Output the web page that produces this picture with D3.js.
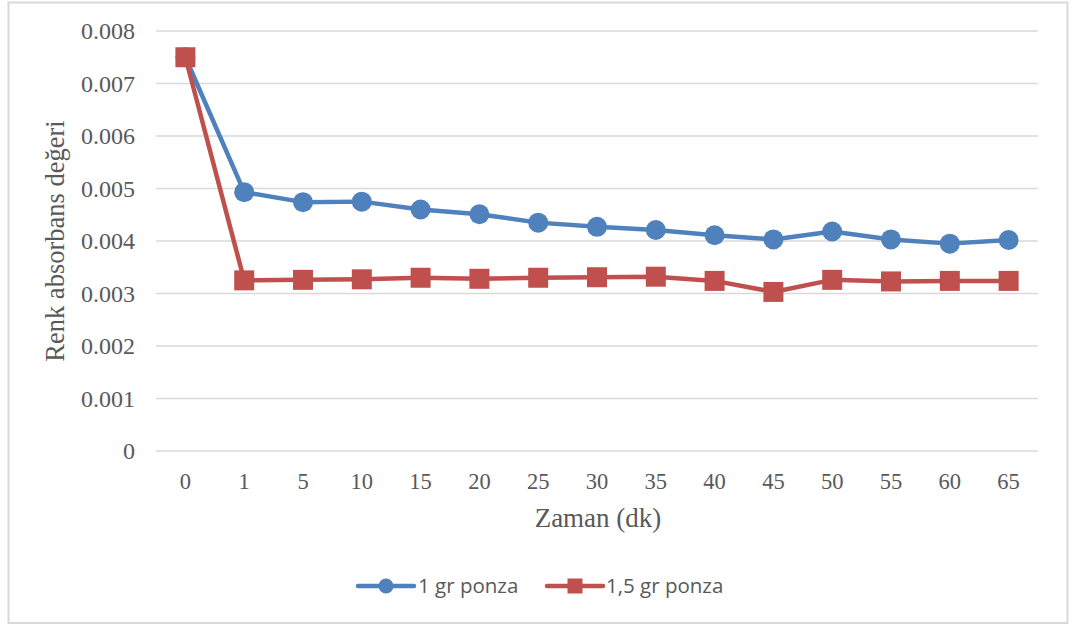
<!DOCTYPE html>
<html>
<head>
<meta charset="utf-8">
<script src="https://cdn.jsdelivr.net/npm/d3@7/dist/d3.min.js"></script>
<style>
  html, body { margin: 0; padding: 0; background: #ffffff; }
  svg { display: block; }
  .serif { font-family: "Liberation Serif", "DejaVu Serif", serif; }
  .sans { font-family: "Open Sans", "Liberation Sans", sans-serif; }
</style>
</head>
<body>
<svg id="chart" width="1074" height="628"></svg>
<script>
// Time points (minutes) on the category axis
const categories = ["0", "1", "5", "10", "15", "20", "25", "30", "35", "40", "45", "50", "55", "60", "65"];

// Colour absorbance values for each pumice dose
const ponza1 = [0.0075, 0.00493, 0.00474, 0.00475, 0.0046, 0.00451, 0.00435, 0.00427, 0.00421, 0.00411, 0.00403, 0.00418, 0.00403, 0.00395, 0.00402];
const ponza15 = [0.0075, 0.00325, 0.00326, 0.00327, 0.0033, 0.00328, 0.0033, 0.00331, 0.00332, 0.00324, 0.00303, 0.00326, 0.00323, 0.00324, 0.00324];

const seriesNames = ["1 gr ponza", "1,5 gr ponza"];
const yTicks = [0, 0.001, 0.002, 0.003, 0.004, 0.005, 0.006, 0.007, 0.008];
const yTickLabels = ["0", "0.001", "0.002", "0.003", "0.004", "0.005", "0.006", "0.007", "0.008"];

const svg = d3.select("#chart");
const blue = "#4F81BD", red = "#C0504D";
const textGrey = "#595959";

// Outer frame
svg.append("rect")
  .attr("x", 8.5).attr("y", 2.5)
  .attr("width", 1059).attr("height", 620.5)
  .attr("fill", "#fff").attr("stroke", "#d9d9d9").attr("stroke-width", 2);

const plot = { left: 156, right: 1038, top: 31, bottom: 451 };

const x = d3.scaleBand().domain(categories).range([plot.left, plot.right]);
const y = d3.scaleLinear().domain([0, 0.008]).range([plot.bottom, plot.top]);

// Horizontal gridlines
svg.append("g").selectAll("line").data(yTicks).join("line")
  .attr("x1", plot.left).attr("x2", plot.right)
  .attr("y1", d => y(d)).attr("y2", d => y(d))
  .attr("stroke", "#d9d9d9").attr("stroke-width", 1.5);

// Y axis labels
const yAxis = d3.axisLeft(y).tickValues(yTicks)
  .tickFormat((d, i) => yTickLabels[i]).tickSize(0).tickPadding(0);
svg.append("g").attr("transform", `translate(${plot.left - 21},0)`).call(yAxis)
  .attr("font-family", null).attr("font-size", null)
  .call(g => g.select(".domain").remove())
  .selectAll("text")
  .attr("class", "serif")
  .style("font-size", "24px").attr("fill", textGrey);

// X axis labels
const xAxis = d3.axisBottom(x).tickSize(0).tickPadding(0);
svg.append("g").attr("transform", `translate(0,${plot.bottom + 22})`).call(xAxis)
  .attr("font-family", null).attr("font-size", null)
  .call(g => g.select(".domain").remove())
  .selectAll("text")
  .attr("class", "serif")
  .style("font-size", "22.5px").attr("fill", textGrey);

// Axis titles
svg.append("text")
  .attr("class", "serif")
  .attr("x", (plot.left + plot.right) / 2 + 1).attr("y", 527)
  .attr("text-anchor", "middle")
  .style("font-size", "27px").attr("fill", textGrey)
  .text("Zaman (dk)");

svg.append("text")
  .attr("class", "serif")
  .attr("transform", `translate(64,241) rotate(-90)`)
  .attr("text-anchor", "middle")
  .style("font-size", "26.5px").attr("fill", textGrey)
  .text("Renk absorbans değeri");

const cx = c => x(c) + x.bandwidth() / 2;
const line = d3.line().x((d, i) => cx(categories[i])).y(d => y(d));

// 1 gr series: line with circle markers
svg.append("path").datum(ponza1)
  .attr("d", line).attr("fill", "none")
  .attr("stroke", blue).attr("stroke-width", 4.5).attr("stroke-linejoin", "round");
svg.append("g").selectAll("circle").data(ponza1).join("circle")
  .attr("cx", (d, i) => cx(categories[i])).attr("cy", d => y(d))
  .attr("r", 10).attr("fill", blue);

// 1,5 gr series: line with square markers
svg.append("path").datum(ponza15)
  .attr("d", line).attr("fill", "none")
  .attr("stroke", red).attr("stroke-width", 4.5).attr("stroke-linejoin", "round");
svg.append("g").selectAll("rect").data(ponza15).join("rect")
  .attr("x", (d, i) => cx(categories[i]) - 10).attr("y", d => y(d) - 10)
  .attr("width", 20).attr("height", 20).attr("fill", red);

// Legend
const legend = [
  { name: seriesNames[0], color: blue, x0: 358, tx: 418, shape: "circle" },
  { name: seriesNames[1], color: red, x0: 547, tx: 606, shape: "square" }
];
const ly = 586;
legend.forEach(l => {
  const g = svg.append("g");
  g.append("line").attr("x1", l.x0).attr("x2", l.x0 + 56)
    .attr("y1", ly).attr("y2", ly)
    .attr("stroke", l.color).attr("stroke-width", 4.5).attr("stroke-linecap", "round");
  if (l.shape === "circle") {
    g.append("circle").attr("cx", l.x0 + 28).attr("cy", ly).attr("r", 7.5).attr("fill", l.color);
  } else {
    g.append("rect").attr("x", l.x0 + 20.5).attr("y", ly - 7.5).attr("width", 15).attr("height", 15).attr("fill", l.color);
  }
  g.append("text").attr("class", "sans").attr("x", l.tx).attr("y", 593)
    .style("font-size", "20.5px").attr("fill", textGrey)
    .text(l.name);
});
</script>
</body>
</html>
